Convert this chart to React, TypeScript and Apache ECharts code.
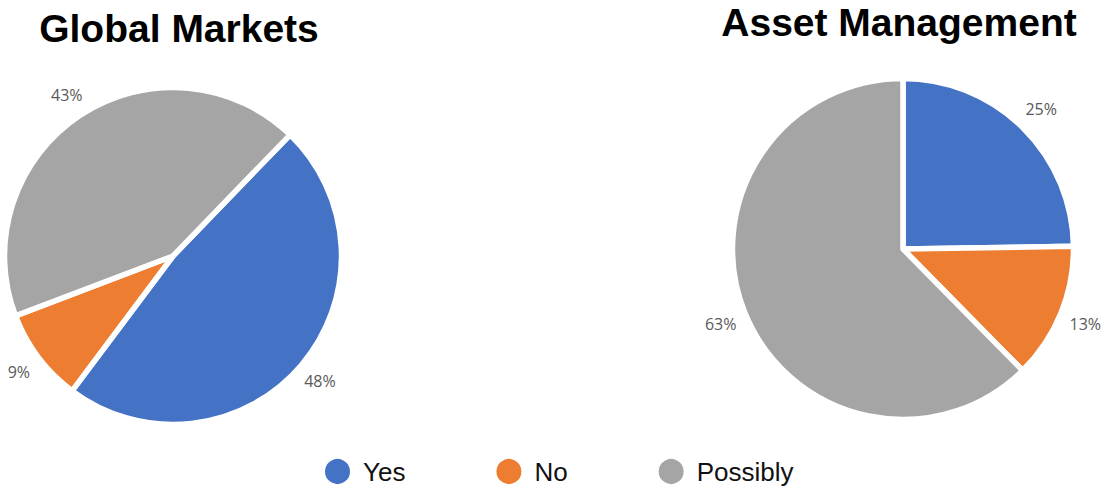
import React, { useEffect, useRef } from 'react';
import * as echarts from 'echarts';

const categories = ['Yes', 'No', 'Possibly'];
const globalMarkets = [48, 9, 43];
const assetManagement = [25, 13, 63];
const colors = ['#4472C4', '#ED7D31', '#A5A5A5'];
const chartTitles = ['Global Markets', 'Asset Management'];

export default function App() {
  const ref = useRef<HTMLDivElement>(null);

  useEffect(() => {
    const chart = echarts.init(ref.current as HTMLDivElement, null, { renderer: 'svg' });
    const toData = (vals: number[]) => categories.map((name, i) => ({ name, value: vals[i] }));

    const pieBase = (center: number[], radius: number, startAngle: number, labelLen: number, vals: number[]) => ({
      type: 'pie',
      center,
      radius,
      startAngle,
      clockwise: true,
      silent: true,
      avoidLabelOverlap: false,
      data: toData(vals),
      itemStyle: { borderColor: '#ffffff', borderWidth: 5.5 },
      label: {
        show: true,
        position: 'outside',
        formatter: '{c}%',
        fontFamily: '"Open Sans", sans-serif',
        fontSize: 16,
        color: '#595959',
        distanceToLabelLine: 0,
      },
      labelLine: { show: false, length: labelLen, length2: 0 },
      labelLayout: { align: 'center', verticalAlign: 'middle' },
      emphasis: { disabled: true },
    });

    chart.setOption({
      animation: false,
      color: colors,
      graphic: [
        {
          type: 'text',
          x: 179,
          y: 28,
          style: {
            text: chartTitles[0],
            font: 'bold 39px "Liberation Sans", Arial, sans-serif',
            fill: '#000000',
            align: 'center',
            verticalAlign: 'middle',
          },
        },
        {
          type: 'text',
          x: 899,
          y: 22,
          style: {
            text: chartTitles[1],
            font: 'bold 39px "Liberation Sans", Arial, sans-serif',
            fill: '#000000',
            align: 'center',
            verticalAlign: 'middle',
          },
        },
      ],
      legend: {
        data: categories,
        left: 323,
        top: 457,
        padding: 0,
        icon: 'circle',
        itemWidth: 27,
        itemHeight: 27,
        itemGap: 89,
        textStyle: {
          fontFamily: '"Liberation Sans", Arial, sans-serif',
          fontSize: 26,
          color: '#111111',
          padding: [0, 0, 0, 7],
        },
      },
      series: [
        pieBase([173, 256], 168.5, 46, 24.5, globalMarkets),
        pieBase([903, 249], 170.5, 90, 26.5, assetManagement),
      ],
    });

    return () => chart.dispose();
  }, []);

  return (
    <div
      ref={ref}
      style={{ position: 'absolute', left: 0, top: 0, width: 1105, height: 491 }}
    />
  );
}
